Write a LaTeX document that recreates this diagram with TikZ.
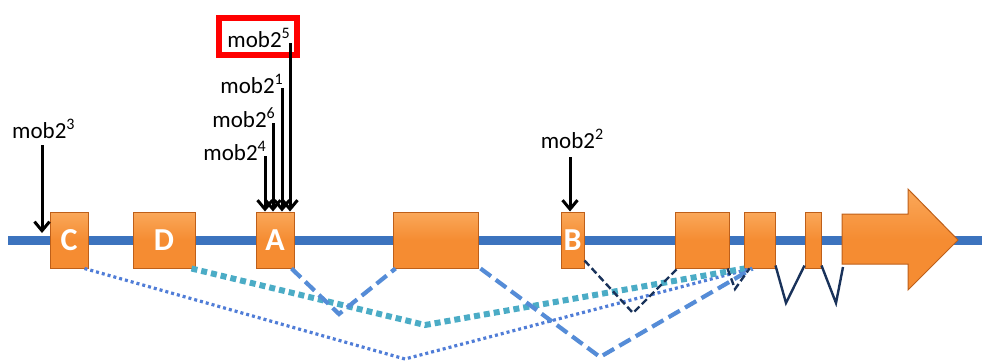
\documentclass[tikz,border=0pt]{standalone}
\usepackage{fontspec}
\setmainfont{Carlito}
\usetikzlibrary{arrows.meta}
\definecolor{genebl}{RGB}{60,115,190}
\definecolor{orng}{RGB}{245,140,50}
\definecolor{orngl}{RGB}{250,168,90}
\definecolor{orngd}{RGB}{190,95,25}
\definecolor{dashbl}{RGB}{85,140,215}
\definecolor{teal}{RGB}{75,172,198}
\definecolor{dotbl}{RGB}{80,125,215}
\definecolor{navy}{RGB}{25,50,90}
\newcommand{\sups}[1]{\raisebox{0.36em}{\fontsize{16}{16}\selectfont #1}}
\tikzset{
  exon/.style={draw=orngd, line width=1pt, top color=orngl, bottom color=orng, middle color=orng,
    minimum height=56pt, inner sep=0pt, font=\fontsize{32}{34}\selectfont\bfseries, text=white},
  lbl/.style={font=\fontsize{23}{25}\selectfont, inner sep=0pt},
  mark arrow/.style={line width=3pt, -{Straight Barb[length=9pt,width=15pt,line width=3pt]}},
  bigdash/.style={dashbl, line width=4.2pt, dash pattern=on 13pt off 6pt},
  tealdot/.style={teal, line width=6pt, dash pattern=on 6pt off 4pt},
  finedot/.style={dotbl, line width=3.2pt, dash pattern=on 3pt off 3pt},
  navydash/.style={navy, line width=2.4pt, dash pattern=on 7pt off 3.5pt},
  navysolid/.style={navy, line width=2.4pt},
}
\begin{document}
\begin{tikzpicture}[x=1pt,y=-1pt]
\useasboundingbox (0,0) rectangle (982,362);
% backbone
\draw[genebl, line width=9pt] (8,240) -- (982,240);
% exons
\node[exon, minimum width=38pt] (C) at (69,240) {C};
\node[exon, minimum width=62pt] (D) at (164,240) {D};
\node[exon, minimum width=38pt] (A) at (275,240) {A};
\node[exon, minimum width=85pt] (E) at (435.5,240) {};
\node[exon, minimum width=23pt] (B) at (572.5,240) {B};
\node[exon, minimum width=54pt] (F) at (702,240) {};
\node[exon, minimum width=31pt] (G) at (759.5,240) {};
\node[exon, minimum width=16pt] (H) at (813,240) {};
% last exon arrow
\shade[draw=orngd, line width=1pt, top color=orngl, bottom color=orng, middle color=orng]
  (842,214) -- (908,214) -- (908,189) -- (958,240) -- (908,290) -- (908,264) -- (842,264) -- cycle;
\coordinate (Ibl) at (843,267);
% splice connections
\coordinate (v1) at (405,359);
\coordinate (v2) at (425,325);
\coordinate (v3) at (339,314);
\coordinate (v4) at (600,357);
\coordinate (v5) at (633,313);
\coordinate (v6) at (735,289);
\coordinate (v7) at (786,303);
\coordinate (v8) at (836,303);
\draw[finedot] ([xshift=-4pt]C.south east) -- (v1) -- ([xshift=8pt]G.south west);
\draw[tealdot] ([xshift=-4pt]D.south east) -- (v2) -- ([xshift=1pt]G.south west);
\draw[bigdash] ([xshift=-3pt]A.south east) -- (v3) -- ([xshift=3pt]E.south west);
\draw[bigdash] ([xshift=2pt]E.south east) -- (v4) -- ([xshift=9pt]G.south west);
\draw[navydash] ([yshift=8pt]B.south east) -- (v5) -- ([xshift=3pt]F.south west);
\draw[navydash] ([xshift=-2pt]F.south east) -- (v6) -- ([xshift=6pt]G.south west);
\draw[navysolid] ([yshift=3pt]G.south east) -- (v7) -- ([yshift=3pt]H.south west);
\draw[navysolid] ([yshift=3pt]H.south east) -- (v8) -- (Ibl);
% mob2 labels and arrows
\node[lbl, anchor=base west] (m3) at (12,138) {mob2\sups{3}};
\node[lbl, anchor=base east] (m4) at (266,160) {mob2\sups{4}};
\node[lbl, anchor=base east] (m6) at (275,127) {mob2\sups{6}};
\node[lbl, anchor=base east] (m1) at (283,93) {mob2\sups{1}};
\node[lbl, anchor=base east] (m5) at (290,47) {mob2\sups{5}};
\node[lbl, anchor=base] (m2) at (572,148) {mob2\sups{2}};
\draw[red, line width=6.5pt] (219,18) rectangle (297,55);
\coordinate (t3) at (42,145);
\coordinate (h3) at (42,233);
\draw[mark arrow] (t3) -- (h3);
\coordinate (t4) at (265,156);
\coordinate (t6) at (273,123);
\coordinate (t1) at (282,88);
\coordinate (t5) at (290,43);
\draw[mark arrow] (t4) -- (t4 |- A.north);
\draw[mark arrow] (t6) -- (t6 |- A.north);
\draw[mark arrow] (t1) -- (t1 |- A.north);
\draw[mark arrow] (t5) -- (t5 |- A.north);
\coordinate (t2) at (570,157);
\draw[mark arrow] (t2) -- (t2 |- B.north);
\end{tikzpicture}
\end{document}
